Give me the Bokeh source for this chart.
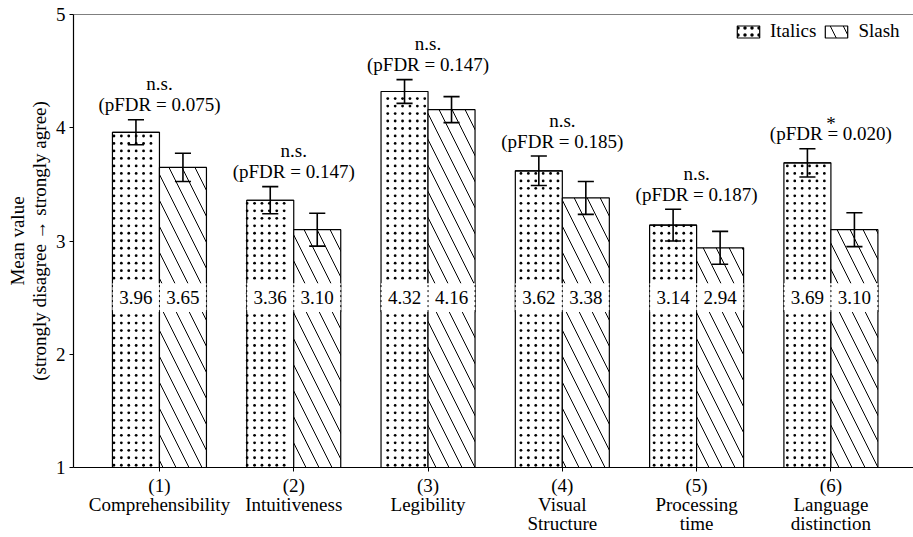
from bokeh.plotting import figure
from bokeh.models import ColumnDataSource, FixedTicker, Span, Legend, LegendItem
from bokeh.embed import file_html
from bokeh.resources import INLINE
from bokeh.core.properties import value

categories = ["(1)\nComprehensibility", "(2)\nIntuitiveness", "(3)\nLegibility",
              "(4)\nVisual\nStructure", "(5)\nProcessing\ntime", "(6)\nLanguage\ndistinction"]
italics = [3.96, 3.36, 4.32, 3.62, 3.14, 3.69]
slash = [3.65, 3.10, 4.16, 3.38, 2.94, 3.10]
italics_err = [0.11, 0.12, 0.105, 0.13, 0.14, 0.125]
slash_err = [0.125, 0.145, 0.115, 0.145, 0.145, 0.15]
sig = ["n.s.", "n.s.", "n.s.", "n.s.", "n.s.", "*"]
pfdr = ["0.075", "0.147", "0.147", "0.185", "0.187", "0.020"]
y_ticks = [1, 2, 3, 4, 5]

FONT = "'Liberation Serif', 'Times New Roman', Times, serif"
FS = "19px"
BW = 0.35
X0, X1 = 0.36, 6.615
PX = 4.0 / 454.0           # data units per pixel (y)
PXX = (X1 - X0) / 840.0    # data units per pixel (x)

xs = list(range(1, len(categories) + 1))
xi = [x - BW / 2 for x in xs]
xsl = [x + BW / 2 for x in xs]

p = figure(width=913, height=537, x_range=(X0, X1), y_range=(1, 5),
           output_backend="svg", toolbar_location=None,
           min_border_left=73, min_border_right=0, min_border_top=14, min_border_bottom=69)
p.outline_line_color = None
p.xgrid.visible = False
p.ygrid.visible = False
p.background_fill_color = "white"
p.border_fill_color = "white"

src_i = ColumnDataSource(dict(x=xi, top=italics))
src_s = ColumnDataSource(dict(x=xsl, top=slash))
p.vbar(x="x", top="top", bottom=1, width=BW, source=src_i,
       fill_color="white", line_color=None)

# dotted fill of the "Italics" bars (small dot grid, ~7.4 px pitch)
dx, dy = 7.4 * PXX, 7.5 * PX
dot_x, dot_y = [], []
for c, top in zip(xi, italics):
    left, right = c - BW / 2, c + BW / 2
    k = int(left / dx) + 1
    cols = []
    while k * dx < right - 0.3 * dx:
        cols.append(k * dx)
        k += 1
    j = 0
    while 1 + (j + 0.3) * dy < top:
        for cx in cols:
            dot_x.append(cx)
            dot_y.append(1 + (j + 0.3) * dy)
        j += 1
p.scatter(x=dot_x, y=dot_y, size=2.8, marker="circle", fill_color="black", line_color=None)

p.vbar(x="x", top="top", bottom=1, width=BW, source=src_i,
       fill_color=None, line_color="black", line_width=1.2)
r_s = p.vbar(x="x", top="top", bottom=1, width=BW, source=src_s,
             fill_color="white", line_color="black", line_width=1.2,
             hatch_pattern="\\", hatch_color="black", hatch_scale=26, hatch_weight=1)

# zero-height glyph that only supplies the dotted legend swatch
r_leg = p.vbar(x="x", top="top", bottom="top", width=BW, source=src_i,
               fill_color="white", line_color="black", line_width=1.2,
               hatch_pattern="dot", hatch_color="black", hatch_scale=7, hatch_weight=0.5)

# value label boxes
lab_y = 2.5
box_h = 29 * PX
p.quad(left=[x - BW / 2 for x in xi] + [x - BW / 2 for x in xsl],
       right=[x + BW / 2 for x in xi] + [x + BW / 2 for x in xsl],
       bottom=lab_y - box_h / 2, top=lab_y + box_h / 2,
       fill_color="white", line_color=None)
edges = []
for x in xs:
    edges += [x - BW, x, x + BW]
p.segment(x0=edges, x1=edges, y0=lab_y - box_h / 2, y1=lab_y + box_h / 2,
          line_color="black", line_width=1, line_dash="2 3")
p.text(x=xi + xsl, y=lab_y, text=[f"{v:.2f}" for v in italics + slash],
       text_align="center", text_baseline="middle",
       text_font=value(FONT), text_font_size=FS, text_color="black")

# error bars
ex = xi + xsl
ev = italics + slash
ee = italics_err + slash_err
cap = 0.06
lo = [v - e for v, e in zip(ev, ee)]
hi = [v + e for v, e in zip(ev, ee)]
p.segment(x0=ex, x1=ex, y0=lo, y1=hi, line_color="black", line_width=1.6)
p.segment(x0=[x - cap for x in ex] * 2, x1=[x + cap for x in ex] * 2,
          y0=lo + hi, y1=lo + hi, line_color="black", line_width=1.6)

# significance annotations
tops = [max(a + ea, b + eb) for a, ea, b, eb in zip(italics, italics_err, slash, slash_err)]
p.text(x=xs, y=[t + 15 * PX for t in tops], text=[f"(pFDR = {v})" for v in pfdr],
       text_align="center", text_baseline="middle",
       text_font=value(FONT), text_font_size=FS, text_color="black")
p.text(x=xs, y=[t + (36 if s == "n.s." else 25) * PX for t, s in zip(tops, sig)], text=sig,
       text_align="center", text_baseline="middle",
       text_font=value(FONT), text_font_size=FS, text_color="black")

p.add_layout(Span(location=5, dimension="width", line_color="black", line_width=1.2))

# axes
for ax in (p.xaxis[0], p.yaxis[0]):
    ax.axis_line_color = "black"
    ax.axis_line_width = 1.2
    ax.major_tick_line_color = "black"
    ax.major_tick_in = 0
    ax.major_tick_out = 4
    ax.minor_tick_line_color = None
    ax.major_label_text_font = FONT
    ax.major_label_text_font_size = FS
    ax.major_label_text_color = "black"

p.xaxis.ticker = FixedTicker(ticks=xs)
p.xaxis.major_label_overrides = {x: c for x, c in zip(xs, categories)}
p.xaxis.major_label_standoff = 3
p.xaxis.major_label_text_line_height = 0.92

p.yaxis.ticker = FixedTicker(ticks=y_ticks)
p.yaxis.major_label_standoff = 4
p.yaxis.axis_label = "Mean value\n(strongly disagree \u2192 strongly agree)"
p.yaxis.axis_label_text_font = FONT
p.yaxis.axis_label_text_font_size = FS
p.yaxis.axis_label_text_font_style = "normal"
p.yaxis.axis_label_text_color = "black"
p.yaxis.axis_label_text_line_height = 1.05
p.yaxis.axis_label_standoff = 3

legend = Legend(items=[LegendItem(label="Italics", renderers=[r_leg]),
                       LegendItem(label="Slash", renderers=[r_s])],
                orientation="horizontal", location=(661, 425),
                glyph_width=28, glyph_height=15, label_standoff=8, spacing=6,
                padding=2, margin=0, border_line_color=None,
                background_fill_alpha=0,
                label_text_font=FONT, label_text_font_size=FS, label_text_color="black")
p.add_layout(legend)

open("out.html", "w").write(file_html(p, INLINE))
